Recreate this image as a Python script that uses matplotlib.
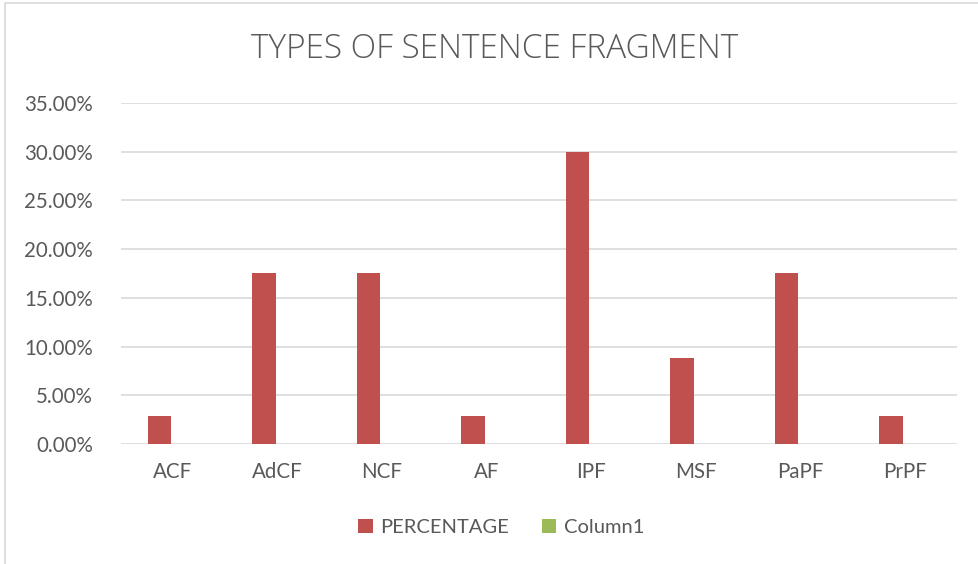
import numpy as np
import matplotlib.pyplot as plt
from matplotlib.patches import Rectangle
from matplotlib.ticker import FuncFormatter

categories = ['ACF', 'AdCF', 'NCF', 'AF', 'IPF', 'MSF', 'PaPF', 'PrPF']
percentage = [2.85, 17.6, 17.6, 2.9, 30.0, 8.8, 17.6, 2.9]
column1 = [0, 0, 0, 0, 0, 0, 0, 0]

txt = '#595959'
plt.rcParams['font.family'] = ['Lato', 'DejaVu Sans']

fig = plt.figure(figsize=(9.79, 5.64), dpi=100)
ax = fig.add_axes([0.1233, 0.2128, 0.8542, 0.6046])

# light frame round the chart area (only top and left edges show)
fig.patches.append(Rectangle((0.005, -0.2), 1.2, 1.195, transform=fig.transFigure,
                             fill=False, edgecolor='#D9D9D9', linewidth=1.2))

x = np.arange(len(categories))
w = 0.225
ax.bar(x - 0.13, percentage, width=w, color='#C0504D', label='PERCENTAGE', zorder=3)
ax.bar(x + 0.13, column1, width=w, color='#9BBB59', label='Column1', zorder=3)

ax.set_xlim(-0.5, len(categories) - 0.5)
ax.set_ylim(0, 35)
ax.set_yticks(np.arange(0, 36, 5))
ax.yaxis.set_major_formatter(FuncFormatter(lambda v, p: '%.2f%%' % v))
ax.set_xticks(x)
ax.set_xticklabels(categories)
ax.grid(axis='y', color='#D9D9D9', linewidth=1.2, zorder=0)
for s in ax.spines.values():
    s.set_visible(False)
ax.tick_params(length=0, labelsize=14.8, colors=txt)
ax.tick_params(axis='x', pad=13)
ax.tick_params(axis='y', pad=20)

fig.text(0.505, 0.913, 'TYPES OF SENTENCE FRAGMENT', ha='center', va='center',
         fontsize=24, color=txt, family=['Open Sans', 'DejaVu Sans'], fontweight='light')

leg = fig.legend(loc='center', bbox_to_anchor=(0.512, 0.064), ncol=2, frameon=False,
                 fontsize=14.5, handlelength=0.7, handleheight=0.7, handletextpad=0.4,
                 columnspacing=1.6)
for t in leg.get_texts():
    t.set_color(txt)

fig.savefig('out.png', dpi=100)
